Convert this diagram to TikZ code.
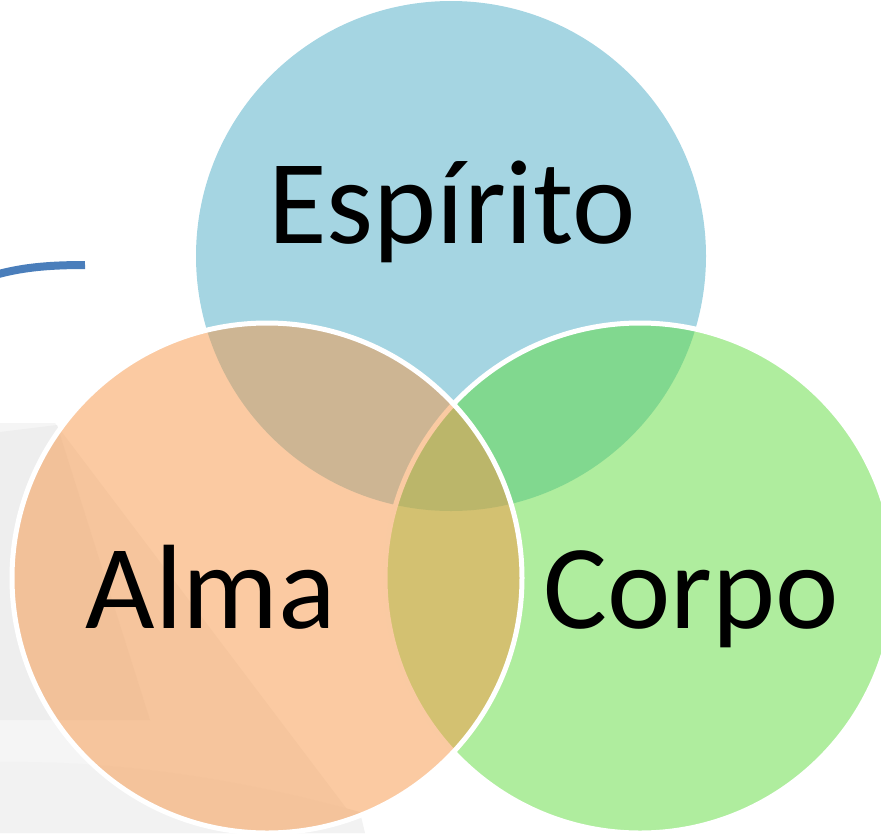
\documentclass[tikz,border=0pt]{standalone}
\usepackage{fontspec}
\setmainfont{Carlito}
\definecolor{cblue}{HTML}{4BACC6}
\definecolor{corange}{HTML}{F79646}
\definecolor{cgreen}{HTML}{5FDB3D}
\definecolor{arcblue}{HTML}{4A7EBB}
\definecolor{bgA}{HTML}{EEEEEE}
\definecolor{bgB}{HTML}{F5F5F5}
\definecolor{bgC}{HTML}{F2F2F2}
\tikzset{
  venn/.style={circle, minimum size=510pt, inner sep=0pt, fill opacity=0.5},
  ring/.style={venn, draw=white, line width=5pt, draw opacity=1},
  label/.style={anchor=base, font=\fontsize{120}{120}\selectfont, text=black, inner sep=0pt}
}
\begin{document}
\begin{tikzpicture}[x=1pt,y=-1pt]
\useasboundingbox (0,0) rectangle (881,833);
\clip (0,0) rectangle (881,833);
% faint background decoration
\fill[bgB] (0,423) -- (55,423) -- (365,833) -- (0,833) -- cycle;
\fill[bgA] (0,432) -- (57,425) -- (150,720) -- (0,720) -- cycle;
\fill[bgC] (0,762) .. controls (150,760) and (280,790) .. (360,812) -- (365,833) -- (0,833) -- cycle;
% blue arc at left
\coordinate (arcA) at (85,265);
\coordinate (arcB) at (-5,275);
\draw[arcblue, line width=8pt] (arcA) .. controls (45,265) and (20,268) .. (arcB);
% circles
\node[venn, fill=cblue] (espirito) at (451,256) {};
\node[ring, fill=cgreen] (corpo) at (640,578) {};
\node[ring, fill=corange] (alma) at (267,578) {};
% labels
\node[label] (tEsp) at (452,243) {Espírito};
\node[label] (tAlma) at (211,628) {Alma};
\node[label] (tCorpo) at (691,628) {Corpo};
\end{tikzpicture}
\end{document}
